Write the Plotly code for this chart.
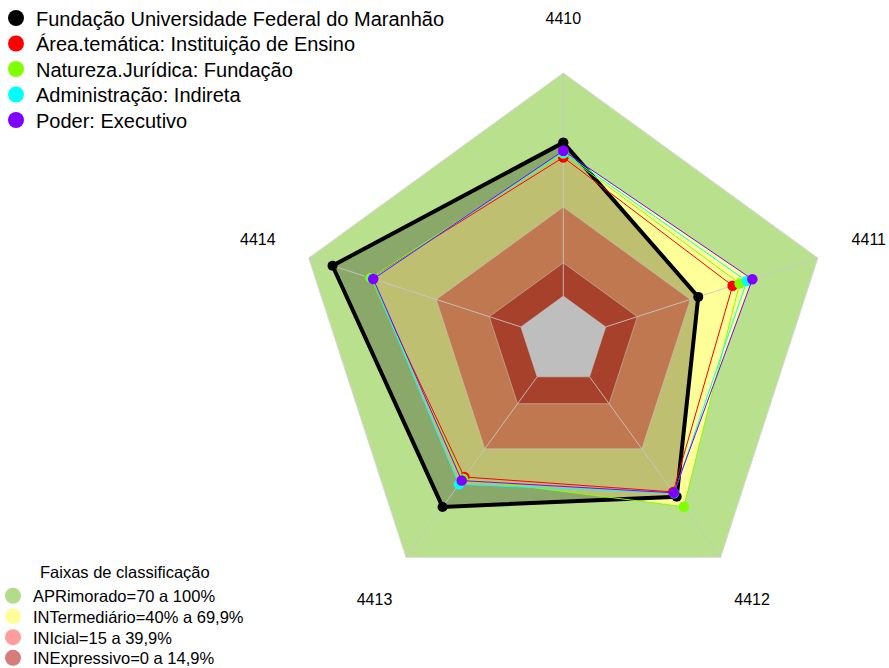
import plotly.graph_objects as go

# Radar axes (indicators), clockwise from the top
axis_labels = ["4410", "4411", "4412", "4413", "4414"]

# Series: institution and comparison groups (percent scores)
series_names = [
    "Fundação Universidade Federal do Maranhão",
    "Área.temática: Instituição de Ensino",
    "Natureza.Jurídica: Fundação",
    "Administração: Indireta",
    "Poder: Executivo",
]
series_colors = ["#000000", "#ff0000", "#80ff00", "#00ffff", "#8000ff"]
v_ufma = [68.8, 43.6, 66.5, 72.1, 88.8]
v_area = [62.2, 59.8, 63.8, 55.5, 71.0]
v_natureza = [64.0, 63.1, 72.0, 56.5, 71.0]
v_admin = [64.5, 66.5, 64.5, 59.6, 70.0]
v_poder = [65.2, 69.1, 64.3, 57.5, 69.6]
series_values = [v_ufma, v_area, v_natureza, v_admin, v_poder]

# Classification bands
band_title = "Faixas de classificação"
band_names = [
    "APRimorado=70 a 100%",
    "INTermediário=40% a 69,9%",
    "INIcial=15 a 39,9%",
    "INExpressivo=0 a 14,9%",
]
band_upper = [100, 69.9, 39.9, 14.9]
band_legend_colors = ["#b3dc8a", "#ffff99", "#ff9d9d", "#d77b7b"]

FONT = "Arial, Liberation Sans, sans-serif"
W, H = 889, 668


def closed(values):
    return list(values) + [values[0]]


theta_closed = closed(axis_labels)
fig = go.Figure()

# outer band (APRimorado)
fig.add_trace(go.Scatterpolar(
    r=closed([band_upper[0]] * 5), theta=theta_closed, mode="lines",
    fill="toself", fillcolor="#b9e08c",
    line=dict(color="rgba(215,215,215,1)", width=1),
    showlegend=False, hoverinfo="skip"))

# filled areas of the comparison groups
for vals in series_values[1:]:
    fig.add_trace(go.Scatterpolar(
        r=closed(vals), theta=theta_closed, mode="lines",
        fill="toself", fillcolor="#ffff99",
        line=dict(color="rgba(0,0,0,0)", width=0),
        showlegend=False, hoverinfo="skip"))

# translucent area of the institution
fig.add_trace(go.Scatterpolar(
    r=closed(v_ufma), theta=theta_closed, mode="lines",
    fill="toself", fillcolor="rgba(0,0,0,0.25)",
    line=dict(color="rgba(0,0,0,0)", width=0),
    showlegend=False, hoverinfo="skip"))

# inner bands and centre
for level, col in [(band_upper[2], "#c07850"), (band_upper[3], "#a8412b"), (0, "#bebebe")]:
    fig.add_trace(go.Scatterpolar(
        r=closed([level] * 5), theta=theta_closed, mode="lines",
        fill="toself", fillcolor=col,
        line=dict(color="rgba(200,200,200,0.55)", width=1),
        showlegend=False, hoverinfo="skip"))

# spokes
spoke_r, spoke_t = [], []
for lab in axis_labels:
    spoke_r += [0, band_upper[0], None]
    spoke_t += [lab, lab, None]
fig.add_trace(go.Scatterpolar(
    r=spoke_r, theta=spoke_t, mode="lines", connectgaps=False,
    line=dict(color="rgba(200,200,200,0.85)", width=1),
    showlegend=False, hoverinfo="skip"))

# series outlines and points
for name, col, vals in zip(series_names, series_colors, series_values):
    thick = col == "#000000"
    fig.add_trace(go.Scatterpolar(
        r=closed(vals), theta=theta_closed, mode="lines+markers",
        line=dict(color=col, width=4 if thick else 1),
        marker=dict(color=col, size=10 if thick else 10.5),
        name=name, showlegend=False))

# axis labels
fig.add_trace(go.Scatterpolar(
    r=[124] * 5, theta=axis_labels, mode="text", text=axis_labels,
    textfont=dict(size=16, color="#000000", family=FONT),
    cliponaxis=False, showlegend=False, hoverinfo="skip"))

# legend entries: one legend box per row so rows can sit close together
series_legends = ["legend", "legend3", "legend4", "legend5", "legend6"]
band_legends = ["legend2", "legend7", "legend8", "legend9"]
for name, col, lg in zip(series_names, series_colors, series_legends):
    fig.add_trace(go.Scatterpolar(
        r=[None], theta=[None], mode="markers",
        marker=dict(color=col, size=16), name=name, legend=lg))
for name, col, lg in zip(band_names, band_legend_colors, band_legends):
    fig.add_trace(go.Scatterpolar(
        r=[None], theta=[None], mode="markers",
        marker=dict(color=col, size=16), name=name, legend=lg))

legends = {}
for i, lg in enumerate(series_legends):
    legends[lg] = dict(
        x=-4 / W, y=1 - (18 + 25.5 * i) / H, xanchor="left", yanchor="middle",
        font=dict(size=20, family=FONT), bgcolor="rgba(0,0,0,0)",
        itemsizing="trace")
for i, lg in enumerate(band_legends):
    legends[lg] = dict(
        x=-7 / W, y=1 - (596 + 20.7 * i) / H, xanchor="left", yanchor="middle",
        font=dict(size=16.5, family=FONT), bgcolor="rgba(0,0,0,0)",
        itemsizing="trace")

fig.update_layout(
    width=W, height=H,
    margin=dict(l=0, r=0, t=0, b=0, autoexpand=False),
    paper_bgcolor="white",
    font=dict(family=FONT, color="#000000"),
    polar=dict(
        domain=dict(x=[0.2723, 0.9950], y=[0.0091, 0.9708]),
        bgcolor="rgba(0,0,0,0)",
        radialaxis=dict(range=[-20, 124], visible=False),
        angularaxis=dict(
            type="category", categoryarray=axis_labels,
            direction="clockwise", rotation=90,
            showticklabels=False, showgrid=False, showline=False, ticks=""),
    ),
    annotations=[dict(
        text=band_title, xref="paper", yref="paper",
        x=125 / W, y=1 - 572 / H, xanchor="center", yanchor="middle",
        showarrow=False, font=dict(size=16.5, family=FONT, color="#000000"))],
    **legends,
)

fig.write_html("out.html")
